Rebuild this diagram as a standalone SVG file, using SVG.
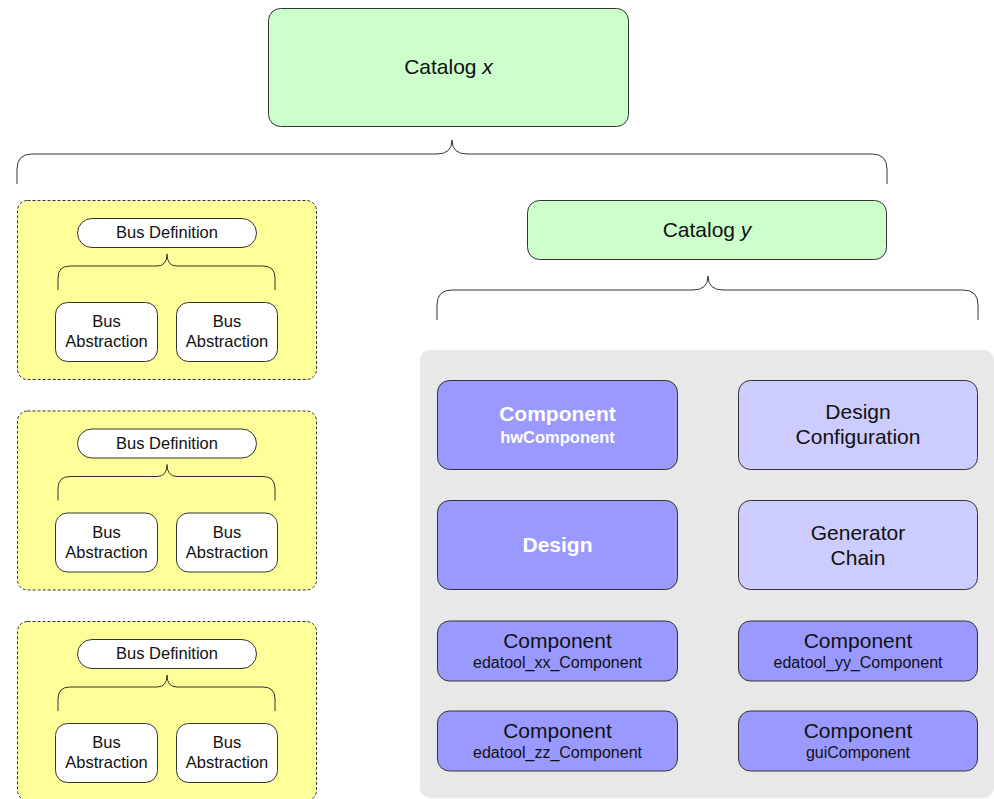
<svg xmlns="http://www.w3.org/2000/svg" width="994" height="799" viewBox="0 0 994 799">
  <style>
    text { font-family: "Liberation Sans", Arial, sans-serif; fill: #111; text-anchor: middle; }
    .big { font-size: 21px; }
    .sub { font-size: 16px; }
    .bus { font-size: 16.5px; }
    .wb { fill: #fff; font-weight: bold; }
    .catalog { fill: #ccffcc; stroke: #333; stroke-width: 1; }
    .group { fill: #ffff99; stroke: #333; stroke-width: 1; stroke-dasharray: 3 2; }
    .white { fill: #fff; stroke: #333; stroke-width: 1; }
    .dark { fill: #9999ff; stroke: #333; stroke-width: 1; }
    .light { fill: #ccccff; stroke: #333; stroke-width: 1; }
    .brace { fill: none; stroke: #333; stroke-width: 1; }
  </style>

  <!-- background panel for catalog y contents -->
  <rect x="420" y="350" width="574" height="448" rx="10" fill="#e8e8e8"/>

  <g id="catalog-x">
    <rect class="catalog" x="268.5" y="8.5" width="360" height="118" rx="12"/>
    <text class="big" x="448.5" y="74">Catalog <tspan font-style="italic">x</tspan></text>
  </g>

  <g id="catalog-y">
    <rect class="catalog" x="527.5" y="200.5" width="359" height="59" rx="12"/>
    <text class="big" x="707" y="236.5">Catalog <tspan font-style="italic">y</tspan></text>
  </g>

  <!-- bus definition groups -->
  <g id="bus-group-1">
    <rect class="group" x="17.5" y="200.5" width="299" height="179" rx="10"/>
    <rect class="white" x="77.5" y="218.5" width="179" height="29" rx="14.5"/>
    <text class="bus" x="167" y="238.3">Bus Definition</text>
    <rect class="white" x="55.5" y="302.5" width="102" height="59" rx="12"/>
    <text class="bus" x="106.5" y="327.3">Bus</text>
    <text class="bus" x="106.5" y="347.3">Abstraction</text>
    <rect class="white" x="176.5" y="302.5" width="101" height="59" rx="12"/>
    <text class="bus" x="227" y="327.3">Bus</text>
    <text class="bus" x="227" y="347.3">Abstraction</text>
  </g>

  <g id="bus-group-2" transform="translate(0 210.5)">
    <rect class="group" x="17.5" y="200.5" width="299" height="179" rx="10"/>
    <rect class="white" x="77.5" y="218.5" width="179" height="29" rx="14.5"/>
    <text class="bus" x="167" y="238.3">Bus Definition</text>
    <rect class="white" x="55.5" y="302.5" width="102" height="59" rx="12"/>
    <text class="bus" x="106.5" y="327.3">Bus</text>
    <text class="bus" x="106.5" y="347.3">Abstraction</text>
    <rect class="white" x="176.5" y="302.5" width="101" height="59" rx="12"/>
    <text class="bus" x="227" y="327.3">Bus</text>
    <text class="bus" x="227" y="347.3">Abstraction</text>
  </g>

  <g id="bus-group-3" transform="translate(0 421)">
    <rect class="group" x="17.5" y="200.5" width="299" height="179" rx="10"/>
    <rect class="white" x="77.5" y="218.5" width="179" height="29" rx="14.5"/>
    <text class="bus" x="167" y="238.3">Bus Definition</text>
    <rect class="white" x="55.5" y="302.5" width="102" height="59" rx="12"/>
    <text class="bus" x="106.5" y="327.3">Bus</text>
    <text class="bus" x="106.5" y="347.3">Abstraction</text>
    <rect class="white" x="176.5" y="302.5" width="101" height="59" rx="12"/>
    <text class="bus" x="227" y="327.3">Bus</text>
    <text class="bus" x="227" y="347.3">Abstraction</text>
  </g>

  <!-- catalog y contents -->
  <g id="hw-component">
    <rect class="dark" x="437.5" y="380.5" width="240" height="89" rx="12"/>
    <text class="big wb" x="557.5" y="421">Component</text>
    <text class="wb" x="557.5" y="443" font-size="16.5">hwComponent</text>
  </g>

  <g id="design-configuration">
    <rect class="light" x="738.5" y="380.5" width="239" height="89" rx="12"/>
    <text class="big" x="858" y="419">Design</text>
    <text class="big" x="858" y="444">Configuration</text>
  </g>

  <g id="design">
    <rect class="dark" x="437.5" y="500.5" width="240" height="89" rx="12"/>
    <text class="big wb" x="557.5" y="552">Design</text>
  </g>

  <g id="generator-chain">
    <rect class="light" x="738.5" y="500.5" width="239" height="89" rx="12"/>
    <text class="big" x="858" y="540">Generator</text>
    <text class="big" x="858" y="565">Chain</text>
  </g>

  <g id="edatool-xx">
    <rect class="dark" x="437.5" y="621" width="240" height="60" rx="12"/>
    <text class="big" x="557.5" y="647.5">Component</text>
    <text class="sub" x="557.5" y="667.5">edatool_xx_Component</text>
  </g>

  <g id="edatool-yy">
    <rect class="dark" x="738.5" y="621" width="239" height="60" rx="12"/>
    <text class="big" x="858" y="647.5">Component</text>
    <text class="sub" x="858" y="667.5">edatool_yy_Component</text>
  </g>

  <g id="edatool-zz">
    <rect class="dark" x="437.5" y="711" width="240" height="60" rx="12"/>
    <text class="big" x="557.5" y="737.5">Component</text>
    <text class="sub" x="557.5" y="758">edatool_zz_Component</text>
  </g>

  <g id="gui-component">
    <rect class="dark" x="738.5" y="711" width="239" height="60" rx="12"/>
    <text class="big" x="858" y="737.5">Component</text>
    <text class="sub" x="858" y="758">guiComponent</text>
  </g>

  <!-- braces, drawn last so they sit above the group fills -->
  <g id="connectors">
    <path class="brace" d="M17 184 V169 Q17 154 32 154 H437 Q452 154 452 140 Q452 154 467 154 H872 Q887 154 887 169 V184"/>
    <path class="brace" d="M437 320 V305 Q437 290 452 290 H693 Q708 290 708 276 Q708 290 723 290 H963 Q978 290 978 305 V320"/>
    <path class="brace" d="M58 290 V278 Q58 266 70 266 H157 Q167 266 167 254 Q167 266 177 266 H263 Q275 266 275 278 V290"/>
    <path class="brace" d="M58 500.5 V488.5 Q58 476.5 70 476.5 H157 Q167 476.5 167 464.5 Q167 476.5 177 476.5 H263 Q275 476.5 275 488.5 V500.5"/>
    <path class="brace" d="M58 711 V699 Q58 687 70 687 H157 Q167 687 167 675 Q167 687 177 687 H263 Q275 687 275 699 V711"/>
  </g>
</svg>
